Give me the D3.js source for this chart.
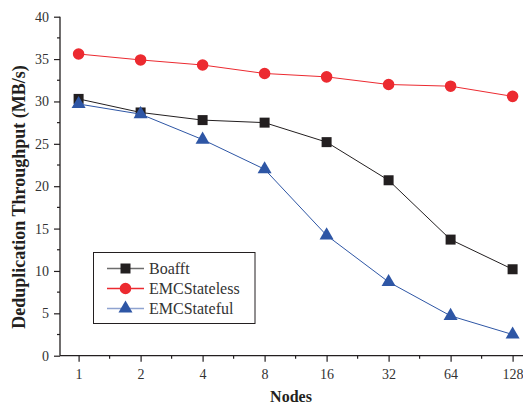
<!DOCTYPE html>
<html>
<head>
<meta charset="utf-8">
<script src="https://cdn.jsdelivr.net/npm/d3@7"></script>
<style>
  body { margin: 0; background: #fff; }
  text { font-family: "Liberation Serif", "Times New Roman", serif; }
</style>
</head>
<body>
<div id="container"></div>
<script>
// nodes on the x axis (log2 spaced, drawn as equal steps)
var nodes = ["1", "2", "4", "8", "16", "32", "64", "128"];
// throughput in MB/s
var boafft = [30.3, 28.7, 27.8, 27.5, 25.2, 20.7, 13.7, 10.2];
var emcStateless = [35.6, 34.9, 34.3, 33.3, 32.9, 32.0, 31.8, 30.6];
var emcStateful = [29.7, 28.5, 25.5, 22.0, 14.2, 8.7, 4.7, 2.5];
var yTicks = [0, 5, 10, 15, 20, 25, 30, 35, 40];

(function(){
    var width = 523, height = 405;
    var serif = "Liberation Serif, Times New Roman, serif";
    var svg = d3.select("#container").append("svg")
        .attr("width", width).attr("height", height);

    var left = 60, right = 523, top = 16.7, bottom = 355.7;

    // index scale, padded 0.3 on each side like the original plot
    var x = d3.scaleLinear().domain([-0.3, 7.3]).range([left, left + 62 * 7.6]);
    var y = d3.scaleLinear().domain([0, 40]).range([bottom, top]);

    var series = [
        {name: "Boafft", values: boafft, color: "#231f20", legendLine: "#6d6d6d", shape: d3.symbolSquare, size: 100},
        {name: "EMCStateless", values: emcStateless, color: "#ec2a30", legendLine: "#ec2a30", shape: d3.symbolCircle, size: 105},
        {name: "EMCStateful", values: emcStateful, color: "#2e56a5", legendLine: "#8fa3d0", shape: d3.symbolTriangle, size: 85}
    ];

    //y axis
    var yAxis = d3.axisLeft(y).tickValues(yTicks).tickSize(6).tickPadding(5);
    var gy = svg.append("g").attr("transform", "translate(" + left + ",0)").call(yAxis)
        .attr("font-family", serif).attr("font-size", 14);
    gy.select(".domain").attr("d", "M0," + top + "V" + bottom).attr("stroke", "#231f20").attr("stroke-width", 1.3);
    gy.selectAll(".tick line").attr("stroke", "#231f20").attr("stroke-width", 1.2);
    gy.selectAll(".tick text").attr("fill", "#333");
    // minor ticks
    svg.append("g").selectAll("line")
        .data(d3.range(2.5, 40, 5))
        .join("line")
        .attr("x1", left - 3).attr("x2", left)
        .attr("y1", function(d){ return y(d); }).attr("y2", function(d){ return y(d); })
        .attr("stroke", "#231f20").attr("stroke-width", 1.2);

    //x axis
    var xAxis = d3.axisBottom(x).tickValues(d3.range(0, 8)).tickFormat(function(i){ return nodes[i]; })
        .tickSize(6).tickPadding(7);
    var gx = svg.append("g").attr("transform", "translate(0," + bottom + ")").call(xAxis)
        .attr("font-family", serif).attr("font-size", 14);
    gx.select(".domain").attr("d", "M" + left + ",0H" + right).attr("stroke", "#231f20").attr("stroke-width", 1.3);
    gx.selectAll(".tick line").attr("stroke", "#231f20").attr("stroke-width", 1.2);
    gx.selectAll(".tick text").attr("fill", "#333");
    svg.append("g").selectAll("line")
        .data(d3.range(0.5, 7.5, 1))
        .join("line")
        .attr("x1", function(d){ return x(d); }).attr("x2", function(d){ return x(d); })
        .attr("y1", bottom).attr("y2", bottom + 3)
        .attr("stroke", "#231f20").attr("stroke-width", 1.2);

    //axis titles
    svg.append("text").attr("x", 291).attr("y", 402).attr("text-anchor", "middle")
        .attr("font-size", 16).attr("font-weight", "bold").attr("fill", "#231f20").text("Nodes");
    svg.append("text").attr("transform", "translate(25,197) rotate(-90)").attr("text-anchor", "middle")
        .attr("font-size", 18).attr("font-weight", "bold").attr("fill", "#231f20")
        .text("Deduplication Throughput (MB/s)");

    var line = d3.line().x(function(d, i){ return x(i); }).y(function(d){ return y(d); });

    series.forEach(function(s){
        svg.append("path").datum(s.values).attr("d", line)
            .attr("fill", "none").attr("stroke", s.color).attr("stroke-width", 1);
        svg.append("g").selectAll("path")
            .data(s.values).join("path")
            .attr("transform", function(d, i){ return "translate(" + x(i) + "," + y(d) + ")"; })
            .attr("d", d3.symbol().type(s.shape).size(s.size))
            .attr("fill", s.color);
    });

    //legend
    var lg = svg.append("g").attr("transform", "translate(93.5,252.5)");
    lg.append("rect").attr("width", 161.5).attr("height", 71)
        .attr("fill", "#fff").attr("stroke", "#231f20").attr("stroke-width", 1);
    series.forEach(function(s, i){
        var ly = 16 + i * 20;
        lg.append("line").attr("x1", 13.5).attr("x2", 50.5).attr("y1", ly).attr("y2", ly)
            .attr("stroke", s.legendLine).attr("stroke-width", 1.3);
        lg.append("path").attr("transform", "translate(32," + ly + ")")
            .attr("d", d3.symbol().type(s.shape).size(s.size)).attr("fill", s.color);
        lg.append("text").attr("x", 55.5).attr("y", ly + 5.5).attr("font-size", 16)
            .attr("fill", "#333").text(s.name);
    });
})();
</script>
</body>
</html>
